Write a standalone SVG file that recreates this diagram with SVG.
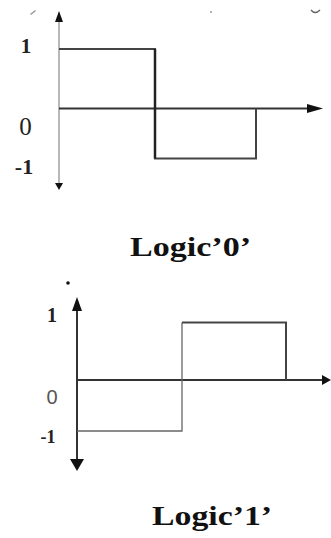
<svg xmlns="http://www.w3.org/2000/svg" width="331" height="538" viewBox="0 0 331 538">
<style>
.lbl{font-family:"Liberation Serif","Times New Roman",serif;fill:#222;text-anchor:middle;font-weight:bold}
.title{font-family:"Liberation Serif","Times New Roman",serif;font-weight:bold;fill:#111}
.ax{stroke:#333;stroke-width:2;fill:none}
.thin{stroke:#888;stroke-width:1.2;fill:none}
.thin2{stroke:#666;stroke-width:1.3;fill:none}
.sig{stroke:#444;stroke-width:2;fill:none}
.head{fill:#111}
</style>
<rect width="331" height="538" fill="#fff"/>
<g id="marks" fill="#999" stroke="none">
<path d="M30 14 L35 10 L36 11 L31 15 Z"/>
<circle cx="211" cy="12" r="1"/>
<path d="M311 10 Q315 15 320 10" stroke="#666" stroke-width="1.5" fill="none"/>
<circle cx="68" cy="283" r="1.8" fill="#111"/>
</g>
<g id="logic0">
<g id="axes0">
<line class="thin" x1="59" y1="20" x2="59" y2="184"/>
<line class="ax" x1="59" y1="108.5" x2="310" y2="108.5"/>
<polygon class="head" points="55,22 59,11 63,22"/>
<polygon class="head" points="55,183 63,183 59,190"/>
<polygon class="head" points="307,104 323,108.5 307,113"/>
</g>
<g id="signal0">
<polyline class="sig" points="59,49 155,49 155,158.5 256,158.5 256,108.5"/>
<line x1="155" y1="49" x2="155" y2="158.5" stroke="#222" stroke-width="2.5"/>
</g>
<text class="lbl" x="26" y="53" font-size="21">1</text>
<text class="lbl" x="25.5" y="135" font-size="25" style="font-weight:normal">0</text>
<text class="lbl" x="24" y="174" font-size="22">-1</text>
<text class="title" x="130" y="256" font-size="28" textLength="121" lengthAdjust="spacingAndGlyphs">Logic’0’</text>
</g>
<g id="logic1">
<g id="axes1">
<line class="ax" x1="77" y1="306" x2="77" y2="462"/>
<line class="ax" x1="77" y1="380" x2="325" y2="380"/>
<polygon class="head" points="72,311 77,297 82,311"/>
<polygon class="head" points="70,459 84,459 77,471"/>
<polygon class="head" points="322,375 331,380 322,385"/>
</g>
<g id="signal1">
<polyline class="thin2" points="77,431 182,431 182,322.5"/>
<polyline class="sig" points="182,322.5 286,322.5 286,380"/>
</g>
<text class="lbl" x="52" y="322" font-size="20">1</text>
<text class="lbl" x="52" y="404" font-size="20" style="fill:#555;font-weight:normal;font-family:'Liberation Sans',Arial,sans-serif">0</text>
<text class="lbl" x="48" y="443" font-size="18">-1</text>
<text class="title" x="152" y="525" font-size="28" textLength="120" lengthAdjust="spacingAndGlyphs">Logic’1’</text>
</g>
</svg>
